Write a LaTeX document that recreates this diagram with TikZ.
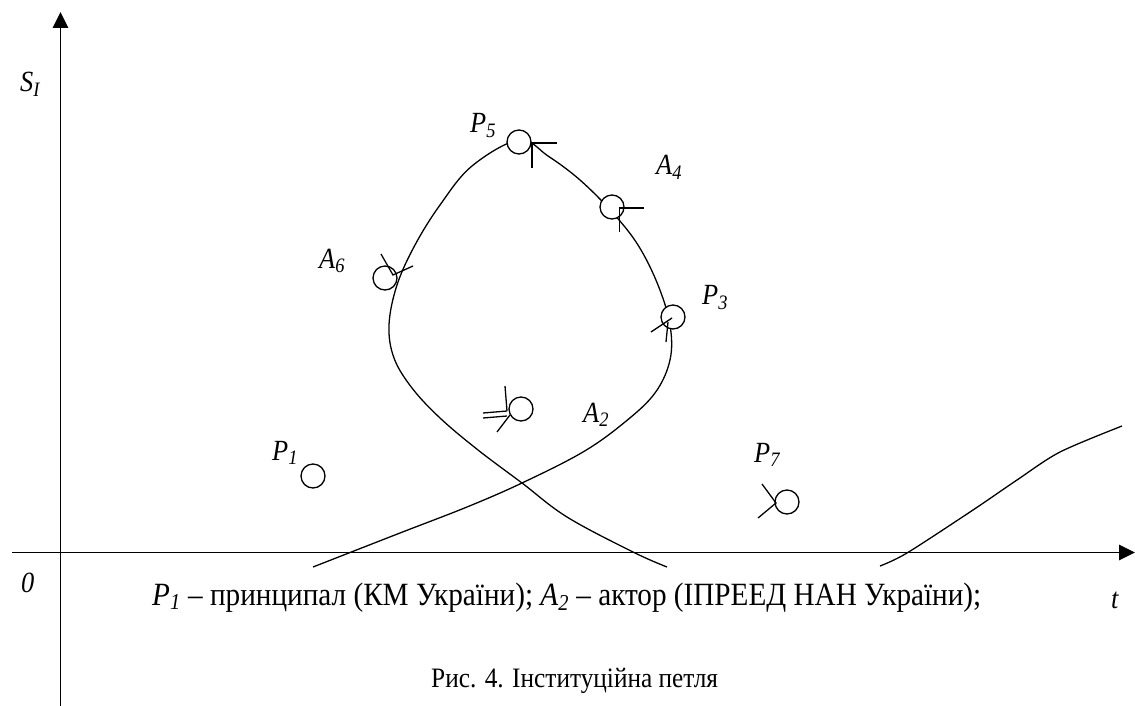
\documentclass[tikz,border=0pt]{standalone}
\usepackage{fontspec}
\setmainfont{Liberation Serif}
\newfontfamily\narrowserif[FakeStretch=0.9]{Liberation Serif}
\usetikzlibrary{arrows.meta,calc}
\tikzset{
  axis/.style={line width=1.7pt,-{Triangle[length=4.8mm,width=4.6mm]}},
  loopline/.style={line width=1.1pt},
  tickline/.style={line width=1.1pt},
  ring/.style={circle,draw,fill=white,line width=1.1pt,minimum size=0.72cm,inner sep=0pt},
  lbl/.style={anchor=base west,inner sep=0pt,font=\narrowserif\fontsize{25}{29}\selectfont\itshape},
  legend/.style={anchor=base west,inner sep=0pt,font=\narrowserif\fontsize{27.7}{32}\selectfont},
  caption/.style={anchor=base west,inner sep=0pt,font=\narrowserif\fontsize{24}{28}\selectfont}
}

\begin{document}
\begin{tikzpicture}[x=0.03cm,y=-0.03cm]
  \useasboundingbox (0,0) rectangle (1135,706);
  \coordinate (ybot) at (60.5,706);
  \coordinate (ytop) at (60.5,12);
  \coordinate (xbeg) at (12,552.5);
  \coordinate (xend) at (1135,552.5);
  \draw[axis] (ybot) -- (ytop);
  \draw[axis] (xbeg) -- (xend);
  \node[lbl] (sI) at (20,92) {S\textsubscript{I}};
  \node[lbl] (zero) at (21,592) {0};
  \node[lbl] (tlab) at (1111,608) {t};

  \draw[loopline] plot[smooth,tension=0.6] coordinates {
    (313,567) (400,533) (467,507) (522,483) (583,452) (625,422) (655,393)
    (670,360) (670,325) (658,285) (638,245) (612,212) (580,180) (548,156)
    (519,140) (472,166) (440,205) (415,245) (397,285) (389,325)
    (394,358) (412,388) (440,418) (478,450) (522,483) (567,517) (633,552)
    (667,567)};
  \draw[loopline] plot[smooth,tension=0.5] coordinates {
    (880,566) (907,553) (973,510) (1017,480) (1060,452) (1122,426)};

  \node[ring] (p5) at (519,142) {};
  \node[ring] (a4) at (612,207) {};
  \node[ring] (a6) at (385,278) {};
  \node[ring] (p3) at (673,317) {};
  \node[ring] (a2) at (521,409) {};
  \node[ring] (p1) at (313,476) {};
  \node[ring] (p7) at (787,502) {};

  \draw[tickline] ($(p5)+(38,1)$) -- ++(-25,0) -- ++(0,25);
  \draw[tickline] ($(a4)+(31.5,1)$) -- ++(-24,0) -- ++(0,24);
  \draw[tickline] ($(a6)+(-4,-24)$) -- ($(a6)+(8,-3)$) -- ++(20,-9);
  \draw[tickline] ($(p3)+(-22,15)$) -- ($(p3)+(-1,1)$);
  \draw[tickline] ($(p3)+(-5,5)$) -- ++(-2,20);
  \draw[tickline] ($(a2)+(-38,4)$) -- ($(a2)+(-14,2)$);
  \draw[tickline] ($(a2)+(-38,9)$) -- ($(a2)+(-14,7)$);
  \draw[tickline] ($(a2)+(-16,-23)$) -- ($(a2)+(-14,2)$);
  \draw[tickline] ($(a2)+(-24,23)$) -- ($(a2)+(-11,6)$);
  \draw[tickline] ($(p7)+(-25,-18)$) -- ($(p7)+(-11,1)$) -- ($(p7)+(-29,16)$);

  \node[lbl] (p5lab) at (470,133) {P\textsubscript{5}};
  \node[lbl] (a4lab) at (656,175) {A\textsubscript{4}};
  \node[lbl] (a6lab) at (319,268) {A\textsubscript{6}};
  \node[lbl] (p3lab) at (702,305) {P\textsubscript{3}};
  \node[lbl] (a2lab) at (583,422) {A\textsubscript{2}};
  \node[lbl] (p1lab) at (272,460) {P\textsubscript{1}};
  \node[lbl] (p7lab) at (754,462) {P\textsubscript{7}};

  \node[legend] (key) at (152,605)
    {\textit{P\textsubscript{1}} – принципал (КМ України); \textit{A\textsubscript{2}} – актор (ІПРЕЕД НАН України);};
  \node[caption] (title) at (431,687) {Рис. 4. Інституційна петля};
\end{tikzpicture}
\end{document}
